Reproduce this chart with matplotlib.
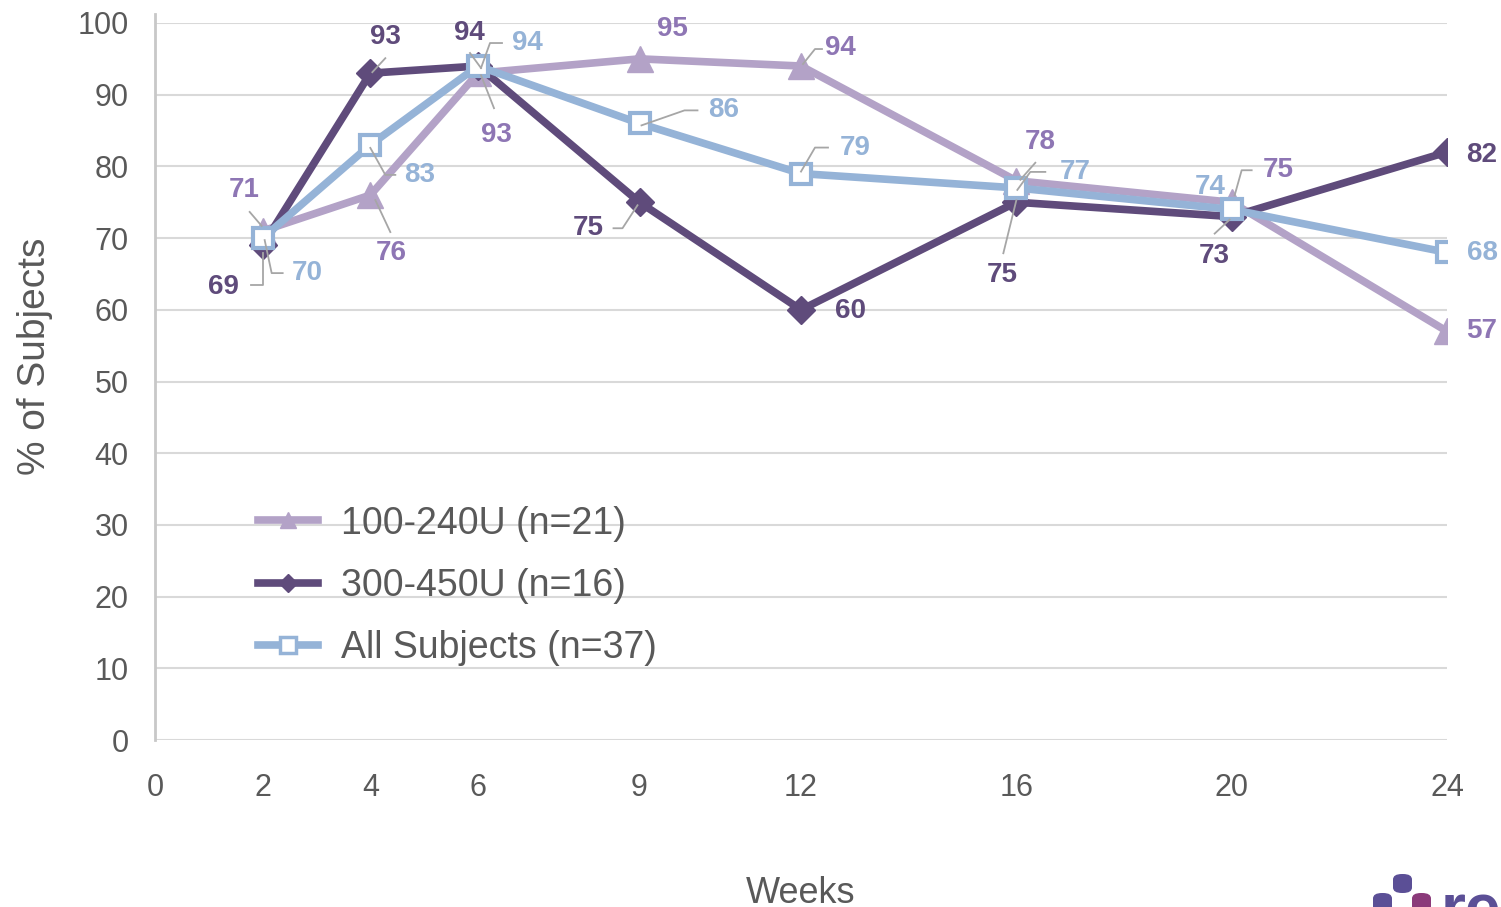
import matplotlib
matplotlib.use("Agg")
import matplotlib.pyplot as plt
from matplotlib.lines import Line2D
from matplotlib.patches import FancyBboxPatch
import numpy as np

plt.rcParams['font.family'] = ['Liberation Sans', 'DejaVu Sans']

weeks = [2, 4, 6, 9, 12, 16, 20, 24]
xticks = [0, 2, 4, 6, 9, 12, 16, 20, 24]
low_dose = [71, 76, 93, 95, 94, 78, 75, 57]
high_dose = [69, 93, 94, 75, 60, 75, 73, 82]
all_subj = [70, 83, 94, 86, 79, 77, 74, 68]
series_names = ["100-240U (n=21)", "300-450U (n=16)", "All Subjects (n=37)"]

C_LP = "#b3a2c7"
C_LP_TXT = "#8e76b4"
C_DP = "#5f4b7b"
C_LB = "#95b3d7"
GRAY = "#595959"
LEAD = "#a6a6a6"

# label offsets (pixels, y up) and leader polylines (pixel offsets from point)
lp_lab = [(-18, 41, [(-13, 19), (-1, 5)]),
          (21, -58, [(5, -5), (20, -37)]),
          (18, -62, [(3, -2), (16, -35)]),
          (33, 30, None),
          (39, 18, [(2, 2), (14, 17), (21, 17)]),
          (24, 39, [(4, 1), (19, 18)]),
          (47, 32, [(3, 7), (10, 32), (20, 32)]),
          (35, 0, None)]
dp_lab = [(-39, -42, [(0, -8), (0, -40), (-12, -40)]),
          (15, 36, [(2, 1), (15, 15)]),
          (-9, 33, [(3, -2), (-8, 13)]),
          (-51, -26, [(-2, -3), (-17, -26), (-26, -26)]),
          (49, -1, None),
          (-14, -73, [(0, 2), (-13, -51)]),
          (-17, -39, [(-2, -3), (-17, -17)]),
          (35, -3, None)]
lb_lab = [(45, -35, [(2, -2), (9, -35), (20, -35)]),
          (49, -30, [(0, -3), (15, -30), (25, -30)]),
          (49, 23, [(3, -2), (12, 23), (24, 23)]),
          (84, 13, [(2, -2), (45, 13), (58, 13)]),
          (54, 26, [(0, 2), (14, 26), (27, 26)]),
          (59, 16, [(1, -2), (14, 16), (29, 16)]),
          (-21, 22, None),
          (35, -1, None)]

W, H = 1501, 907
fig = plt.figure(figsize=(W / 100, H / 100), dpi=100)
ax = fig.add_axes([155 / W, 1 - 740 / H, (1447 - 155) / W, (740 - 23) / H])
ax.set_xlim(0, 24)
ax.set_ylim(0, 100)

ax.plot(weeks, low_dose, color=C_LP, lw=5.5, marker='^', ms=19, mfc=C_LP, mec=C_LP, zorder=3)
ax.plot(weeks, high_dose, color=C_DP, lw=5.5, marker='D', ms=14, mfc=C_DP, mec=C_DP, zorder=4)
ax.plot(weeks, all_subj, color=C_LB, lw=5.5, marker='s', ms=15, mfc='white', mec=C_LB, mew=3, zorder=5)

ax.set_xticks(xticks)
ax.set_yticks(np.arange(0, 101, 10))
ax.tick_params(axis='both', length=0, labelsize=22, labelcolor=GRAY)
ax.tick_params(axis='x', pad=24)
ax.tick_params(axis='y', pad=19)
ax.grid(axis='y', color='#d9d9d9', lw=1.5, zorder=0)
ax.set_axisbelow(True)
for s in ['top', 'right']:
    ax.spines[s].set_visible(False)
ax.spines['bottom'].set_visible(False)
ax.spines['left'].set_color('#c8c8c8')
ax.spines['left'].set_linewidth(2)
ax.spines['left'].set_bounds(0, 101.2)

ax.set_xlabel("Weeks", fontsize=26, color=GRAY)
ax.xaxis.set_label_coords(0.5, -0.19)
ax.set_ylabel("% of Subjects", fontsize=28, color=GRAY)
ax.yaxis.set_label_coords(-0.079, 0.535)

to_disp = ax.transData.transform
to_data = ax.transData.inverted().transform


def label_series(vals, labs, tcol):
    for x, y, (dx, dy, lead) in zip(weeks, vals, labs):
        px, py = to_disp((x, y))
        ax.annotate(str(y), (x, y), xytext=(dx, dy), textcoords='offset pixels',
                    ha='center', va='center', fontsize=20, fontweight='bold',
                    color=tcol, zorder=7)
        if lead:
            pts = np.array([to_data((px + a, py + b)) for a, b in lead])
            ax.plot(pts[:, 0], pts[:, 1], color=LEAD, lw=1.3, zorder=6, clip_on=False)


label_series(low_dose, lp_lab, C_LP_TXT)
label_series(high_dose, dp_lab, C_DP)
label_series(all_subj, lb_lab, C_LB)

handles = [Line2D([], [], color=C_LP, lw=5.5, marker='^', ms=12, mfc=C_LP, mec=C_LP),
           Line2D([], [], color=C_DP, lw=5.5, marker='D', ms=9, mfc=C_DP, mec=C_DP),
           Line2D([], [], color=C_LB, lw=5.5, marker='s', ms=12, mfc='white', mec=C_LB, mew=2.5)]
leg = ax.legend(handles, series_names, loc='center left', bbox_to_anchor=(0.080, 0.215),
                frameon=False, fontsize=27, labelcolor=GRAY, handlelength=1.6,
                handletextpad=0.6, labelspacing=0.7, borderpad=0, borderaxespad=0)

# partial logo in bottom-right corner
logo_c = "#5b4f96"
fig.patches.append(FancyBboxPatch((1393 / W, 1 - 893 / H), 19 / W, 19 / H,
                                  boxstyle="round,pad=0,rounding_size=0.006",
                                  transform=fig.transFigure, fc=logo_c, ec='none'))
fig.patches.append(FancyBboxPatch((1373 / W, 1 - 912 / H), 19 / W, 19 / H,
                                  boxstyle="round,pad=0,rounding_size=0.006",
                                  transform=fig.transFigure, fc=logo_c, ec='none'))
fig.patches.append(FancyBboxPatch((1412 / W, 1 - 912 / H), 19 / W, 19 / H,
                                  boxstyle="round,pad=0,rounding_size=0.006",
                                  transform=fig.transFigure, fc="#8b3a7a", ec='none'))
fig.text(1441 / W, 1 - 930 / H, "re", fontsize=46, color=logo_c, fontweight='bold',
         ha='left', va='baseline')

fig.savefig("out.png", dpi=100)
